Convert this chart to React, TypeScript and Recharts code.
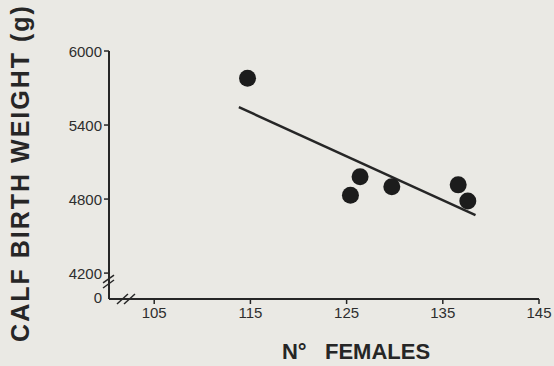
import {
  ScatterChart,
  Scatter,
  XAxis,
  YAxis,
  ReferenceLine,
} from "recharts";

// observed calves: number of females vs calf birth weight (g)
const females = [114.7, 125.4, 126.4, 129.7, 136.6, 137.6];
const birthWeight = [5780, 4830, 4980, 4900, 4915, 4785];

// regression line end points
const fitFemales = [113.8, 138.4];
const fitWeight = [5545, 4670];

const xTicks = [105, 115, 125, 135, 145];
const yTicks = [3990, 4200, 4800, 5400, 6000];
const yTickLabels = ["0", "4200", "4800", "5400", "6000"];

// axis break slashes (y axis, then x axis)
const yBreaks = [
  [{ x: 99.68, y: 4120 }, { x: 100.82, y: 4184 }],
  [{ x: 99.68, y: 4079 }, { x: 100.82, y: 4144 }],
];
const xBreaks = [
  [{ x: 101.13, y: 3949 }, { x: 102.27, y: 4030 }],
  [{ x: 101.86, y: 3949 }, { x: 103.0, y: 4030 }],
];

const points = females.map((f, i) => ({ x: f, y: birthWeight[i] }));
const ink = "#262626";
const font = "'Liberation Sans', Arial, sans-serif";

function YTick(props: any) {
  const { x, y, payload } = props;
  const i = yTicks.indexOf(payload.value);
  const isZero = i === 0;
  return (
    <g>
      {!isZero && (
        <line x1={x + 2} x2={x + 7} y1={y} y2={y} stroke={ink} strokeWidth={1.5} />
      )}
      <text
        x={x}
        y={y}
        dy={isZero ? -2 : 0}
        textAnchor="end"
        dominantBaseline="central"
        fontFamily={font}
        fontSize={15}
        fill="#2e2e2e"
      >
        {yTickLabels[i]}
      </text>
    </g>
  );
}

function Dot(props: any) {
  return <circle cx={props.cx} cy={props.cy} r={8.5} fill="#1c1c1c" />;
}

export default function App() {
  return (
    <div
      style={{
        position: "absolute",
        left: 0,
        top: 0,
        width: 554,
        height: 366,
        background: "#eae9e4",
      }}
    >
      <ScatterChart
        width={554}
        height={366}
        margin={{ top: 51, right: 15, bottom: 37, left: 49 }}
      >
        <XAxis
          type="number"
          dataKey="x"
          domain={[100.3, 145]}
          ticks={xTicks}
          allowDataOverflow
          height={30}
          axisLine={{ stroke: ink, strokeWidth: 2 }}
          tickLine={{ stroke: ink, strokeWidth: 1.5 }}
          tickSize={5}
          tickMargin={3}
          tick={{ fontFamily: font, fontSize: 15, fill: "#2e2e2e" }}
          label={(p: any) => {
            const vb = p.viewBox;
            return (
              <text
                x={vb.x + vb.width / 2 + 32}
                y={vb.y + 60}
                textAnchor="middle"
                fontFamily={font}
                fontWeight="bold"
                fontSize={22}
                fill={ink}
                style={{ whiteSpace: "pre" }}
              >
                {"N°   FEMALES"}
              </text>
            );
          }}
        />
        <YAxis
          type="number"
          dataKey="y"
          domain={[3990, 6000]}
          ticks={yTicks}
          allowDataOverflow
          width={60}
          axisLine={{ stroke: ink, strokeWidth: 2 }}
          tickLine={false}
          tickSize={5}
          tickMargin={2}
          tick={<YTick />}
          label={(p: any) => {
            const vb = p.viewBox;
            const cx = vb.x - 29;
            const cy = vb.y + vb.height / 2 - 2;
            return (
              <text
                x={cx}
                y={cy}
                transform={`rotate(-90 ${cx} ${cy})`}
                textAnchor="middle"
                dominantBaseline="central"
                fontFamily={font}
                fontWeight="bold"
                fontSize={25}
                letterSpacing={2}
                fill={ink}
              >
                CALF BIRTH WEIGHT (g)
              </text>
            );
          }}
        />
        <ReferenceLine
          segment={[
            { x: fitFemales[0], y: fitWeight[0] },
            { x: fitFemales[1], y: fitWeight[1] },
          ]}
          stroke={ink}
          strokeWidth={2.5}
        />
        {[...yBreaks, ...xBreaks].map((seg, i) => (
          <ReferenceLine
            key={i}
            segment={seg}
            ifOverflow="visible"
            stroke={ink}
            strokeWidth={1.5}
          />
        ))}
        <Scatter data={points} shape={<Dot />} isAnimationActive={false} />
      </ScatterChart>
    </div>
  );
}
